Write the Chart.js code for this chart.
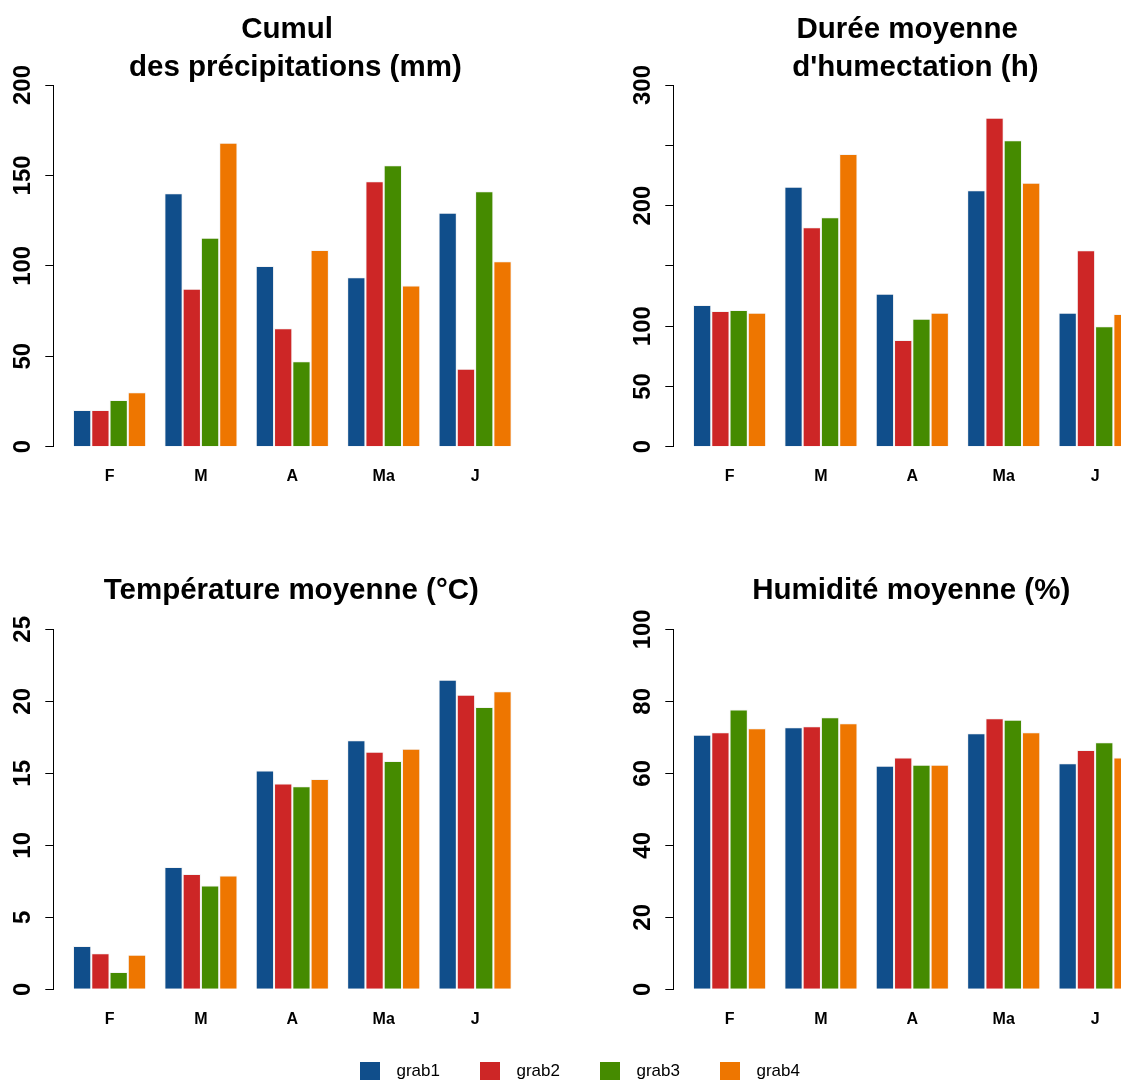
<!DOCTYPE html>
<html lang="fr">
<head>
  <meta charset="UTF-8">
  <meta name="viewport" content="width=device-width, initial-scale=1.0">
  <title>Grabs - climat</title>
  <style>
    html, body { margin: 0; padding: 0; background: #fff; }
    body { width: 1121px; height: 1086px; overflow: hidden; position: relative;
           font-family: 'Liberation Sans', Arial, sans-serif; }
    canvas { position: absolute; }
    #legende { position: absolute; left: 0; top: 1060.5px; width: 1121px; height: 20px; }
    .item { position: absolute; top: 0; height: 20px; display: flex; align-items: center;
            font-size: 17px; color: #000; }
    .carre { width: 20px; height: 18px; margin-right: 16.5px; }
  </style>
</head>
<body>

  <canvas id="g1" width="620" height="520" style="left:0;top:0"></canvas>
  <canvas id="g2" width="620" height="520" style="left:620px;top:0"></canvas>
  <canvas id="g3" width="620" height="520" style="left:0;top:544px"></canvas>
  <canvas id="g4" width="620" height="520" style="left:620px;top:544px"></canvas>
  <div id="legende"></div>

  <script src="https://cdn.jsdelivr.net/npm/chart.js"></script>

  <script>
    const mois = ['F', 'M', 'A', 'Ma', 'J'];
    const grabs = ['grab1', 'grab2', 'grab3', 'grab4'];
    const couleurs = ['#104E8B', '#CD2626', '#458B00', '#EE7600'];

    // valeurs par grab (grab1..grab4), une valeur par mois
    const pluie = [
      [20.3, 140.1, 99.9, 93.7, 129.4],
      [20.3, 87.4, 65.5, 146.8, 43.1],
      [25.8, 115.6, 47.2, 155.6, 141.2],
      [30.1, 168.1, 108.8, 89.2, 102.5]
    ];
    const humectation = [
      [117.5, 215.7, 126.9, 212.7, 111.2],
      [112.5, 182.0, 88.5, 272.9, 162.9],
      [113.4, 190.3, 106.2, 254.1, 99.8],
      [111.2, 242.8, 111.2, 219.0, 110.0]
    ];
    const temperature = [
      [3.0, 8.5, 15.2, 17.3, 21.5],
      [2.5, 8.0, 14.3, 16.5, 20.45],
      [1.2, 7.2, 14.1, 15.85, 19.6],
      [2.4, 7.9, 14.6, 16.7, 20.7]
    ];
    const humidite = [
      [70.7, 72.8, 62.1, 71.1, 62.8],
      [71.4, 73.1, 64.4, 75.3, 66.5],
      [77.7, 75.6, 62.4, 74.9, 68.6],
      [72.5, 73.9, 62.4, 71.4, 64.4]
    ];

    // graduations de l'axe y et etiquettes affichees
    const ticksPluie = [0, 50, 100, 150, 200];
    const ticksHumect = [0, 50, 100, 150, 200, 250, 300];
    const etiqHumect = [0, 50, 100, 200, 300];
    const ticksTemp = [0, 5, 10, 15, 20, 25];
    const ticksHum = [0, 20, 40, 60, 80, 100];

    const police = "'Liberation Sans', Arial, sans-serif";

    // marges par rangee (haut / bas)
    const rangs = [
      { titreHaut: 10.5, titreBas: -1.5, padBas: 13.3 },
      { titreHaut: 27.5, titreBas: 19.8, padBas: 14.7 }
    ];

    function graphique(id, titre, valeurs, ticks, etiquettes, rang, padEtiq) {
      const r = rangs[rang];
      new Chart(document.getElementById(id), {
        type: 'bar',
        data: {
          datasets: grabs.map((nom, i) => ({
            label: nom,
            data: valeurs[i].map((v, j) => ({ x: j, y: v })),
            backgroundColor: couleurs[i],
            borderColor: '#f4f4f4',
            borderWidth: 1
          }))
        },
        options: {
          responsive: false,
          animation: false,
          categoryPercentage: 0.8,
          barPercentage: 1,
          layout: { padding: { left: 0, right: 90.8, top: 0, bottom: r.padBas } },
          plugins: {
            legend: { display: false },
            tooltip: { enabled: false },
            title: {
              display: true,
              text: titre,
              fullSize: false,
              color: '#000',
              font: { family: police, size: 29.5, weight: 'bold', lineHeight: '38px' },
              padding: { top: r.titreHaut, bottom: r.titreBas }
            }
          },
          scales: {
            x: {
              type: 'linear',
              min: -0.6155,
              max: 4.592,
              offset: false,
              grid: { display: false, drawTicks: false },
              border: { display: false },
              afterBuildTicks: s => { s.ticks = mois.map((m, i) => ({ value: i })); },
              ticks: {
                callback: v => mois[v],
                autoSkip: false,
                maxRotation: 0,
                padding: 20.4,
                color: '#000',
                font: { family: police, size: 16, weight: 'bold' }
              }
            },
            y: {
              min: 0,
              max: ticks[ticks.length - 1],
              afterBuildTicks: s => { s.ticks = ticks.map(v => ({ value: v })); },
              afterFit: s => { s.width = 53.3; },
              grid: { drawOnChartArea: false, drawTicks: true, tickLength: 8, color: '#000', lineWidth: 1 },
              border: { display: true, color: '#000', width: 1 },
              ticks: {
                callback: v => etiquettes.includes(v) ? String(v) : '',
                autoSkip: false,
                minRotation: 90,
                maxRotation: 90,
                crossAlign: 'center',
                padding: padEtiq,
                color: '#000',
                font: { family: police, size: 24, weight: 'bold' }
              }
            }
          }
        }
      });
    }

    graphique('g1', ['Cumul ', ' des précipitations (mm)'], pluie, ticksPluie, ticksPluie, 0, 2);
    graphique('g2', ['Durée moyenne ', " d'humectation (h)"], humectation, ticksHumect, etiqHumect, 0, 2);
    graphique('g3', 'Température moyenne (°C)', temperature, ticksTemp, ticksTemp, 1, 8.65);
    graphique('g4', 'Humidité moyenne (%)', humidite, ticksHum, ticksHum, 1, 2);

    // legende commune en bas
    const legende = document.getElementById('legende');
    grabs.forEach((nom, i) => {
      const item = document.createElement('div');
      item.className = 'item';
      item.style.left = (360 + i * 120) + 'px';
      const carre = document.createElement('span');
      carre.className = 'carre';
      carre.style.background = couleurs[i];
      const txt = document.createElement('span');
      txt.textContent = nom;
      item.appendChild(carre);
      item.appendChild(txt);
      legende.appendChild(item);
    });
  </script>
</body>
</html>
